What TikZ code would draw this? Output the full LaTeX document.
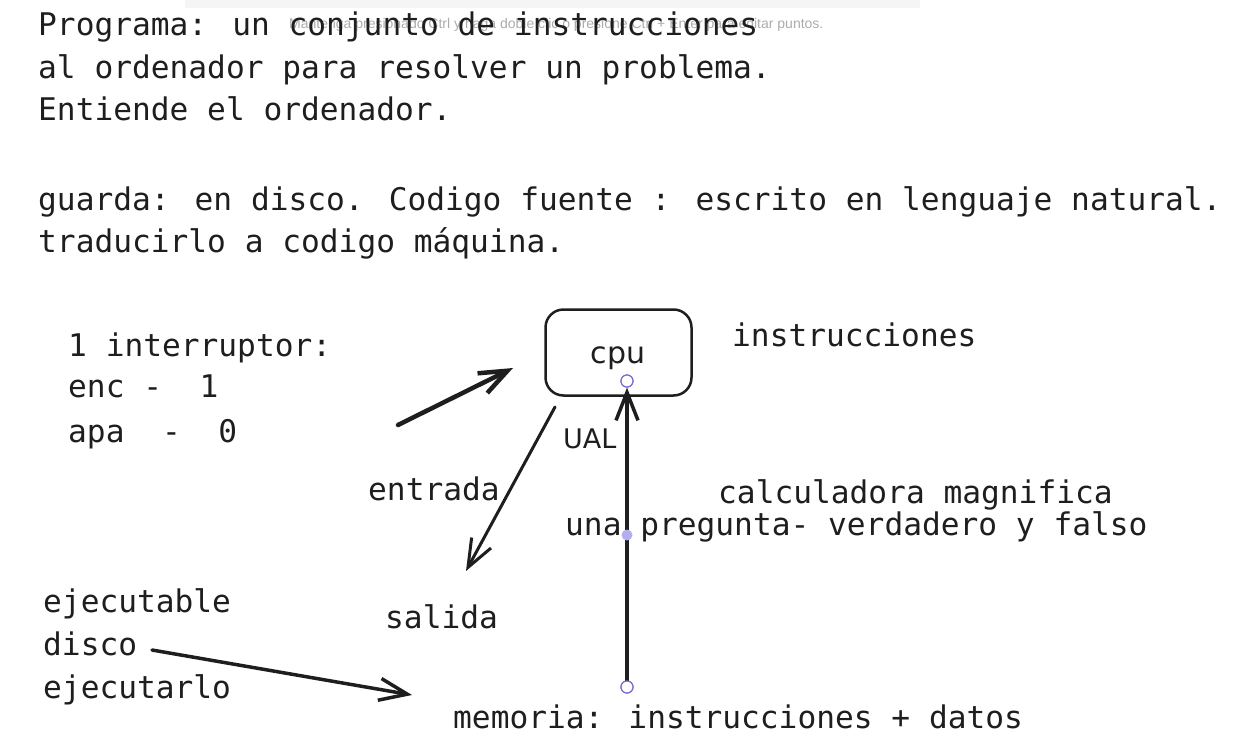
\documentclass[tikz,border=0pt]{standalone}
\usepackage{fontspec}
\usepackage{tikz}
\usetikzlibrary{arrows.meta}
\newfontfamily\handfont{DejaVu Sans Mono}
\newfontfamily\labelfont{DejaVu Sans}
\newfontfamily\tipfont{Liberation Sans}
\definecolor{Ink}{HTML}{1E1E1E}
\definecolor{Violet}{HTML}{7A6FD8}
\definecolor{Lilac}{HTML}{B4AEF0}
\tikzset{
  hand/.style={font=\handfont\fontsize{31.2}{38}\selectfont,anchor=base west,inner sep=0pt,text=Ink},
  lbl/.style={font=\labelfont\fontsize{27}{32}\selectfont,anchor=base west,inner sep=0pt,text=Ink},
  barb/.style={-{Straight Barb[length=28pt,width=22pt]},color=Ink,line cap=round},
  handle/.style={circle,draw=Violet,fill=white,line width=1.2pt,minimum size=12pt,inner sep=0pt}
}
\begin{document}
\begin{tikzpicture}[x=1pt,y=-1pt]
\useasboundingbox (0,0) rectangle (1248,747);
% tooltip
\fill[black!4] (185,0) rectangle (920,8);
\node[font=\tipfont\fontsize{14}{16}\selectfont,anchor=base west,inner sep=0pt,text=black!33] (tip) at (289,28) {Mantenga presionado Ctrl y haga doble clic o presione Ctrl + Enter para editar puntos.};
% texto
\node[hand] (l1) at (38,35) {Programa: un conjunto de instrucciones};
\node[hand] (l2) at (38,78) {al ordenador para resolver un problema.};
\node[hand] (l3) at (38,120) {Entiende el ordenador.};
\node[hand] (l4) at (38,210) {guarda: en disco. Codigo fuente : escrito en lenguaje natural.};
\node[hand] (l5) at (38,252) {traducirlo a codigo máquina.};
\node[hand] (sw) at (68,356) {1 interruptor:}; \node[hand] (enc) at (68,397) {enc -\ \ 1};
\node[hand] (apa) at (68,442) {apa\ \ -\ \ 0};
\node[hand] (instr) at (732,346) {instrucciones};
\node[hand] (calc) at (718,503) {calculadora magnifica};
\node[hand] (preg) at (565,535) {una pregunta- verdadero y falso};
\node[hand] (in) at (368,500) {entrada}; \node[hand] (out) at (385,628) {salida};
\node[hand] (exe) at (43,612) {ejecutable}; \node[hand] (disco) at (43,655) {disco};
\node[hand] (run) at (43,698) {ejecutarlo};
\node[hand] (mem) at (453,728) {memoria: instrucciones + datos};
% cpu
\node[draw=Ink,line width=2.5pt,rounded corners=18pt,minimum width=146pt,minimum height=86pt] (cpu) at (618.5,352.5) {};
\node[font=\labelfont\fontsize{30}{36}\selectfont,anchor=base,inner sep=0pt,text=Ink] (cputxt) at (618,363) {cpu};
\node[lbl] (ual) at (563,448) {UAL};
% flechas
\coordinate (inTail) at (398,425); \coordinate (inTip) at (513,368);
\coordinate (outTail) at (555,407); \coordinate (outTip) at (466,571);
\coordinate (runTail) at (152,650); \coordinate (runTip) at (412,695);
\node[handle] (memdot) at (627,687) {}; \node[handle] (cpudot) at (627,381) {};
\draw[barb,line width=4.5pt] (inTail) -- (inTip);
\draw[barb,line width=3pt] (outTail) -- (outTip);
\draw[barb,line width=3.5pt] (memdot) -- (cpudot);
\draw[barb,line width=3.5pt] (runTail) -- (runTip);
\node[handle] at (memdot) {}; \node[handle] at (cpudot) {};
\fill[Lilac] (627,535) circle (5.5pt);
\end{tikzpicture}
\end{document}
